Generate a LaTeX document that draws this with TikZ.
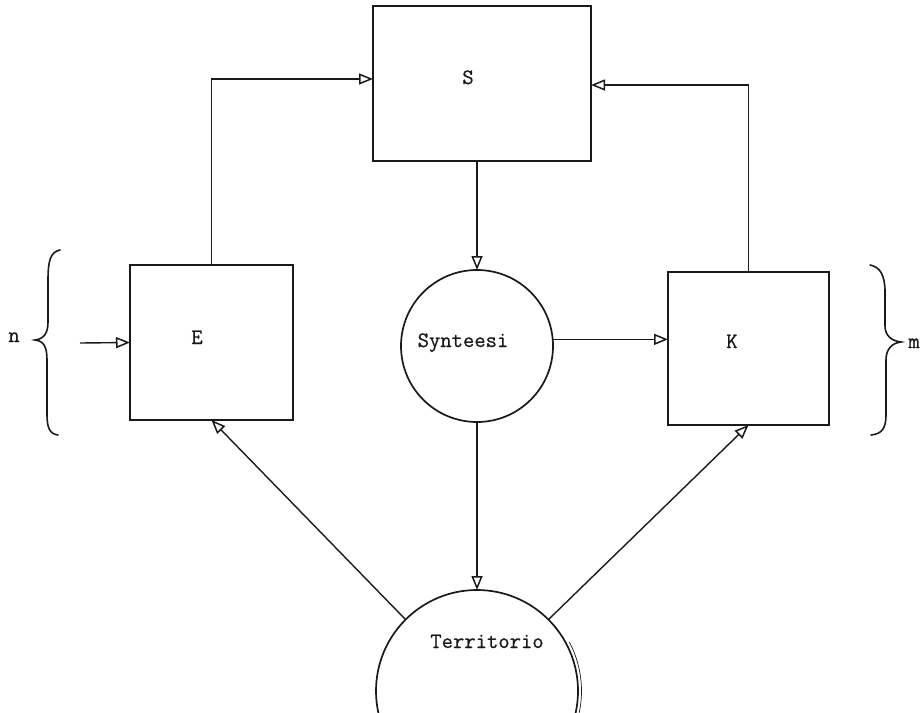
\documentclass[tikz,border=0pt]{standalone}
\usepackage{fontspec}
\newfontfamily\twfont{Latin Modern Mono}[FakeBold=0.7]
\usetikzlibrary{arrows.meta}
\definecolor{ink}{HTML}{1A1A1A}
\begin{document}
\begin{tikzpicture}[x=1pt,y=-1pt,
  box/.style={draw=ink, line width=2pt, inner sep=0pt, outer sep=0pt},
  disc/.style={draw=ink, circle, line width=1.7pt, inner sep=0pt, outer sep=0pt},
  lbl/.style={font=\twfont\fontsize{22}{24}\selectfont, text=ink, inner sep=0pt, anchor=base},
  arr/.style={draw=ink, line width=1.4pt, -{Triangle[open, length=14pt, width=11pt, line width=1.5pt]}},
  brc/.style={draw=ink, line width=1.6pt, line cap=round}]
\useasboundingbox (0,0) rectangle (920,712);
% boxes and circles
\node[box, minimum width=218pt, minimum height=155pt] (S) at (482,83.5) {};
\node[box, minimum width=163pt, minimum height=155pt] (E) at (211.5,342.5) {};
\node[box, minimum width=161pt, minimum height=153pt] (K) at (748.5,348.5) {};
\node[disc, minimum size=152pt] (Syn) at (477,346) {};
\begin{scope}
  \clip (0,0) rectangle (920,712);
  \node[disc, minimum size=202pt] (Ter) at (477,691) {};
  \draw[draw=ink, line width=0.7pt] ([shift={(-12:104.5pt)}]Ter.center) arc[start angle=-12, end angle=28, radius=104.5pt];
\end{scope}
% labels
\node[lbl] (Sl) at (468,84) {S};
\node[lbl] (El) at (197,344) {E};
\node[lbl] (Kl) at (732,348) {K};
\node[lbl] (Synl) at (463,347) {Synteesi};
\node[lbl] (Terl) at (487,648) {Territorio};
\node[lbl] (nl) at (14,342) {n};
\node[lbl] (ml) at (914,348) {m};
% connectors
\draw[arr] (E.north) |- ([yshift=4.5pt]S.west);
\draw[arr] (K.north) |- ([yshift=-1.5pt]S.east);
\draw[arr] (S.south -| Syn.north) -- (Syn.north);
\draw[arr] (Syn.5) -- (Syn.5 -| K.west);
\draw[arr] (Syn.south) -- (Ter.north);
\draw[arr] (Ter.135) -- (E.south);
\draw[arr] (Ter.45) -- (K.south);
\coordinate (in) at (80,343);
\draw[arr] (in) -- (E.west);
% braces
\draw[brc] (60,250) .. controls (50,252) and (48,262) .. (48,280) -- (48,322)
  .. controls (48,333) and (44,339) .. (35,340)
  .. controls (44,341) and (47,347) .. (47,360) -- (47,415)
  .. controls (47,428) and (50,434) .. (58,435);
\draw[brc] (870,265) .. controls (880,267) and (885,275) .. (885,292) -- (885,326)
  .. controls (885,336) and (892,341) .. (901,342)
  .. controls (892,343) and (886,349) .. (886,360) -- (886,415)
  .. controls (886,428) and (882,434) .. (871,435);
\end{tikzpicture}
\end{document}
